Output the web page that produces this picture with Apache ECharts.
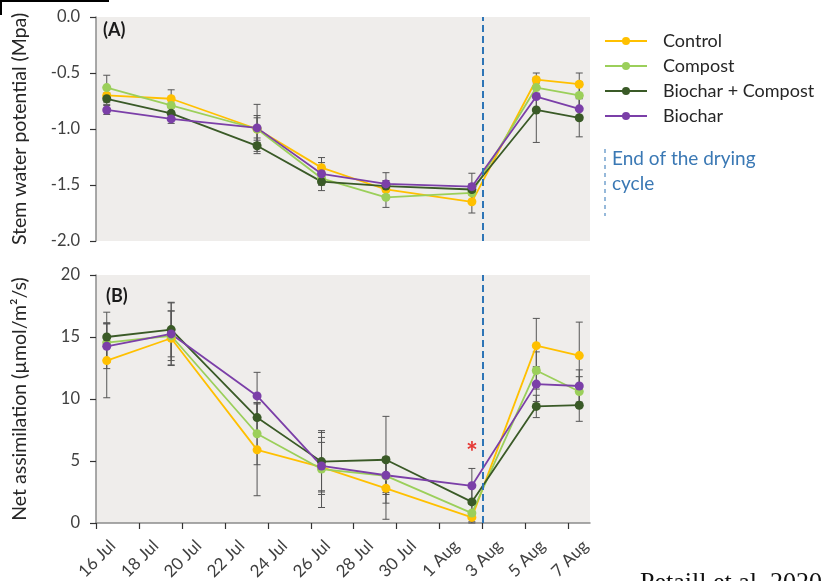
<!DOCTYPE html>
<html>
<head>
<meta charset="utf-8">
<script src="https://cdn.jsdelivr.net/npm/echarts@6/dist/echarts.min.js"></script>
<style>
  html, body { margin: 0; padding: 0; background: #ffffff; }
  #chart { width: 835px; height: 581px; }
</style>
</head>
<body>
<div id="chart"></div>
<script>
// Sampling dates as day-of-July (32 = 1 Aug), and axis tick labels
const sampleDays = [16, 19, 23, 26, 29, 33, 36, 38];
const tickDays = [16, 18, 20, 22, 24, 26, 28, 30, 32, 34, 36, 38];
const tickLabels = ['16 Jul', '18 Jul', '20 Jul', '22 Jul', '24 Jul', '26 Jul', '28 Jul', '30 Jul', '1 Aug', '3 Aug', '5 Aug', '7 Aug'];
const dryingEndDay = 34;

const treatments = ['Control', 'Compost', 'Biochar + Compost', 'Biochar'];

// (A) Stem water potential (MPa), mean and SE
const swpControl = [-0.70, -0.73, -1.00, -1.345, -1.54, -1.65, -0.56, -0.60];
const swpCompost = [-0.63, -0.79, -1.00, -1.44, -1.61, -1.57, -0.63, -0.70];
const swpBiocharCompost = [-0.73, -0.86, -1.15, -1.47, -1.51, -1.54, -0.83, -0.90];
const swpBiochar = [-0.83, -0.91, -0.99, -1.40, -1.49, -1.515, -0.71, -0.82];

const swpErrControl = [0.06, 0.08, 0.12, 0.09, 0.06, 0.10, 0.06, 0.10];
const swpErrCompost = [0.11, 0.06, 0.10, 0.06, 0.09, 0.07, 0.05, 0.12];
const swpErrBiocharCompost = [0.05, 0.05, 0.07, 0.08, 0.05, 0.05, 0.29, 0.17];
const swpErrBiochar = [0.04, 0.04, 0.21, 0.10, 0.10, 0.12, 0.12, 0.10];

// (B) Net assimilation (µmol/m²/s), mean and SE
const anControl = [13.1, 14.9, 5.9, 4.5, 2.8, 0.45, 14.3, 13.5];
const anCompost = [14.55, 15.1, 7.2, 4.35, 3.8, 0.8, 12.3, 10.6];
const anBiocharCompost = [15.0, 15.6, 8.5, 4.95, 5.1, 1.7, 9.4, 9.5];
const anBiochar = [14.25, 15.25, 10.25, 4.6, 3.85, 3.0, 11.2, 11.05];

const anErrControl = [3.0, 2.2, 3.7, 2.0, 2.5, 0.45, 2.2, 2.7];
const anErrCompost = [1.6, 2.0, 2.5, 3.1, 1.5, 0.7, 1.5, 1.2];
const anErrBiocharCompost = [2.0, 2.2, 1.2, 2.35, 3.5, 1.2, 0.9, 1.3];
const anErrBiochar = [1.8, 2.5, 1.9, 2.3, 1.4, 1.4, 1.4, 1.3];

// Significant difference marker (panel B, 2 Aug)
const sigDay = 33;
const sigValue = 6.3;

const colors = ['#FFC000', '#9BCF5A', '#3A5A27', '#7B3FA8'];
const FONT = 'Lato';
const axisGray = '#8c8c8c';
const textGray = '#404040';

// dates occupy a one-day slot; points and labels sit in the slot's middle
const pos = d => d + 0.5;

function lineData(values) {
  return values.map((v, i) => [pos(sampleDays[i]), v]);
}
function errData(values, errs) {
  return values.map((v, i) => [pos(sampleDays[i]), v - errs[i], v + errs[i]]);
}

function errorBars(gridIdx, values, errs) {
  return {
    type: 'custom',
    xAxisIndex: gridIdx, yAxisIndex: gridIdx,
    z: 1,
    silent: true,
    data: errData(values, errs),
    encode: { x: 0, y: [1, 2] },
    renderItem: function (params, api) {
      const lo = api.coord([api.value(0), api.value(1)]);
      const hi = api.coord([api.value(0), api.value(2)]);
      const cap = 3.5;
      const style = { stroke: '#555555', lineWidth: 1 };
      return {
        type: 'group',
        children: [
          { type: 'line', shape: { x1: lo[0], y1: lo[1], x2: hi[0], y2: hi[1] }, style },
          { type: 'line', shape: { x1: lo[0] - cap, y1: lo[1], x2: lo[0] + cap, y2: lo[1] }, style },
          { type: 'line', shape: { x1: hi[0] - cap, y1: hi[1], x2: hi[0] + cap, y2: hi[1] }, style }
        ]
      };
    }
  };
}

function lineSeries(gridIdx, name, values, color, extra) {
  return Object.assign({
    type: 'line',
    name: name,
    xAxisIndex: gridIdx, yAxisIndex: gridIdx,
    z: 3,
    data: lineData(values),
    symbol: 'circle',
    symbolSize: 9,
    color: color,
    lineStyle: { width: 1.8, color: color },
    itemStyle: { color: color },
    emphasis: { disabled: true }
  }, extra || {});
}

const dryLine = {
  silent: true,
  symbol: 'none',
  label: { show: false },
  lineStyle: { color: '#2E75B6', type: [7, 4], width: 2 },
  data: [{ xAxis: dryingEndDay }]
};

const swpSets = [swpControl, swpCompost, swpBiocharCompost, swpBiochar];
const swpErrs = [swpErrControl, swpErrCompost, swpErrBiocharCompost, swpErrBiochar];
const anSets = [anControl, anCompost, anBiocharCompost, anBiochar];
const anErrs = [anErrControl, anErrCompost, anErrBiocharCompost, anErrBiochar];

const series = [];
treatments.forEach((t, i) => {
  series.push(errorBars(0, swpSets[i], swpErrs[i]));
  series.push(errorBars(1, anSets[i], anErrs[i]));
});
treatments.forEach((t, i) => {
  series.push(lineSeries(0, t, swpSets[i], colors[i], i === 0 ? { markLine: dryLine } : null));
  const extraB = {};
  if (i === 0) extraB.markLine = dryLine;
  if (i === 3) {
    extraB.markPoint = {
      silent: true,
      symbol: 'circle',
      symbolSize: 0,
      data: [{ coord: [pos(sigDay), sigValue] }],
      label: {
        show: true, position: 'inside', formatter: '*', offset: [0, 8],
        color: '#E53935', fontSize: 28, fontFamily: FONT, fontWeight: 'bold'
      }
    };
  }
  series.push(lineSeries(1, t, anSets[i], colors[i], extraB));
});

const xMin = 16, xMax = 39;
const labelFor = v => {
  const idx = tickDays.indexOf(Math.round(v - 0.5));
  return idx >= 0 ? tickLabels[idx] : '';
};

const option = {
  animation: false,
  backgroundColor: '#ffffff',
  textStyle: { fontFamily: FONT },
  grid: [
    { left: 96, top: 17, width: 494, height: 224, show: true, backgroundColor: '#EFEDEB', borderWidth: 0, outerBoundsMode: 'none' },
    { left: 96, top: 275, width: 494, height: 248, show: true, backgroundColor: '#EFEDEB', borderWidth: 0, outerBoundsMode: 'none' }
  ],
  xAxis: [
    { type: 'value', gridIndex: 0, min: xMin, max: xMax, interval: 2, show: false },
    {
      type: 'value', gridIndex: 1, min: xMin, max: xMax, interval: 2,
      axisLine: { show: true, onZero: false, lineStyle: { color: axisGray, width: 1.5 } },
      axisTick: { show: true, length: 6, customValues: tickDays, lineStyle: { color: '#333', width: 1.2 } },
      axisLabel: {
        customValues: tickDays.map(pos),
        rotate: 45, margin: 14, color: textGray, fontSize: 17, fontFamily: FONT,
        verticalAlign: 'top',
        formatter: labelFor
      },
      splitLine: { show: false }
    }
  ],
  yAxis: [
    {
      type: 'value', gridIndex: 0, min: -2, max: 0, interval: 0.5,
      name: 'Stem water potential (Mpa)', nameLocation: 'middle', nameGap: 66,
      nameTextStyle: { fontSize: 19.5, color: '#262626', fontFamily: FONT },
      axisLine: { show: true, lineStyle: { color: axisGray, width: 1.5 } },
      axisTick: { show: true, length: 6, lineStyle: { color: '#333', width: 1.2 } },
      axisLabel: { color: textGray, fontSize: 16.5, margin: 16, fontFamily: FONT, formatter: v => v.toFixed(1) },
      splitLine: { show: false }
    },
    {
      type: 'value', gridIndex: 1, min: 0, max: 20, interval: 5,
      name: 'Net assimilation (µmol/m²/s)', nameLocation: 'middle', nameGap: 66,
      nameTextStyle: { fontSize: 19.5, color: '#262626', fontFamily: FONT },
      axisLine: { show: true, lineStyle: { color: axisGray, width: 1.5 } },
      axisTick: { show: true, length: 6, lineStyle: { color: '#333', width: 1.2 } },
      axisLabel: { color: textGray, fontSize: 16.5, margin: 16, fontFamily: FONT },
      splitLine: { show: false }
    }
  ],
  legend: {
    orient: 'vertical',
    left: 604, top: 32, padding: 0,
    itemWidth: 42, itemHeight: 10,
    itemGap: 7,
    data: treatments,
    textStyle: { fontSize: 18, color: '#262626', fontFamily: FONT, padding: [0, 0, 0, 11] },
    selectedMode: false
  },
  graphic: [
    { type: 'text', left: 103, top: 21, style: { text: '(A)', font: 'bold 18px ' + FONT, fill: '#1a1a1a' } },
    { type: 'text', left: 106, top: 287, style: { text: '(B)', font: 'bold 18px ' + FONT, fill: '#1a1a1a' } },
    {
      type: 'line', shape: { x1: 605, y1: 149, x2: 605, y2: 216 },
      style: { stroke: '#2E75B6', lineWidth: 1, lineDash: [4, 4] }
    },
    {
      type: 'text', left: 612, top: 146,
      style: { text: 'End of the drying\ncycle', font: '19px ' + FONT, fill: '#3A78B4', lineHeight: 25 }
    },
    {
      type: 'text', left: 640, top: 570,
      style: { text: 'Petaill et al. 2020', font: '26px "Liberation Serif"', fill: '#111' }
    },
    { type: 'rect', shape: { x: 0, y: 0, width: 109, height: 2 }, style: { fill: '#000' } },
    { type: 'rect', shape: { x: 0, y: 0, width: 2, height: 15 }, style: { fill: '#000' } }
  ],
  series: series
};

const chart = echarts.init(document.getElementById('chart'), null, { renderer: 'canvas' });
chart.setOption(option);
</script>
</body>
</html>
